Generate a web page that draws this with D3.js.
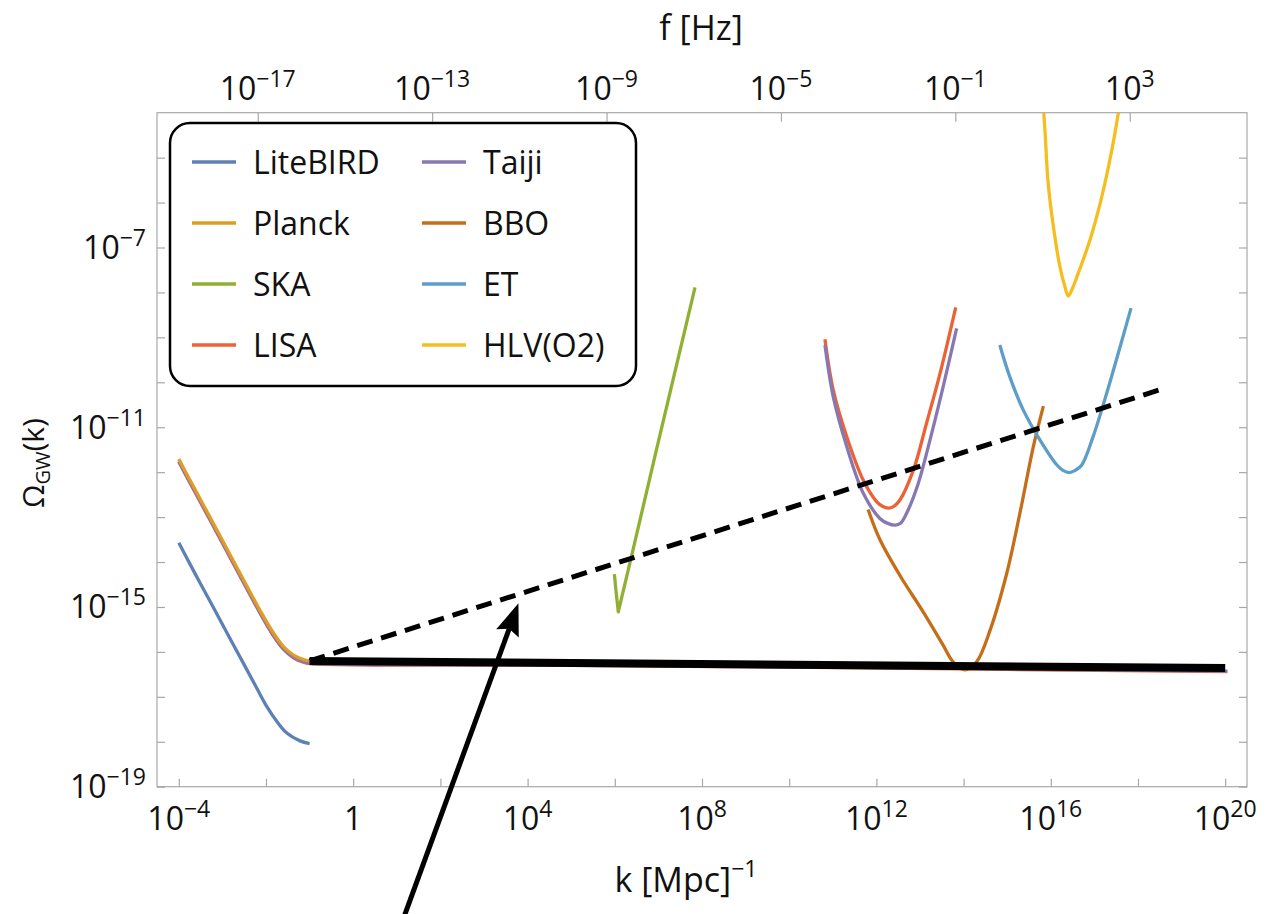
<!DOCTYPE html>
<html>
<head>
<meta charset="utf-8">
<script src="https://cdn.jsdelivr.net/npm/d3@7"></script>
<style>
  body { margin: 0; background: #fff; }
  svg { font-family: "Open Sans", sans-serif; }
</style>
</head>
<body>
<svg id="chart"></svg>
<script>
// Values, stored as log10 exponents
// (log10 k in Mpc^-1, log10 Omega_GW)
const liteBirdK = [-4.0, -3.67, -3.28, -2.90, -2.52, -2.21, -1.98, -1.75, -1.53, -1.22, -1.0];
const liteBirdO = [-13.57, -14.18, -14.88, -15.57, -16.25, -16.81, -17.22, -17.55, -17.80, -17.98, -18.04];

const planckK = [-4.0, -3.67, -3.28, -2.90, -2.52, -2.14, -1.83, -1.60, -1.37, -1.14, -1.0];
const planckO = [-11.71, -12.31, -13.01, -13.70, -14.39, -15.07, -15.58, -15.88, -16.07, -16.17, -16.20];

// low-k branch shared by the space detectors (sits just under Planck and under the solid line)
const lowBranchK = [-4.0, -3.67, -3.28, -2.90, -2.52, -2.14, -1.83, -1.60, -1.37, -1.14, -1.0, 5, 10, 15, 20.05];
const lowBranchO = [-11.76, -12.36, -13.06, -13.75, -14.44, -15.12, -15.63, -15.93, -16.12, -16.22, -16.25, -16.29, -16.33, -16.38, -16.43];

const skaK = [5.99, 6.03, 6.08, 6.42, 6.96, 7.42, 7.84];
const skaO = [-14.27, -14.67, -15.11, -13.72, -11.48, -9.60, -7.89];

const lisaK = [10.82, 11.01, 11.32, 11.70, 12.01, 12.14, 12.27, 12.40, 12.54, 12.85, 13.15, 13.46, 13.82];
const lisaO = [-9.04, -10.17, -11.21, -12.18, -12.66, -12.76, -12.80, -12.76, -12.62, -11.95, -10.91, -9.80, -8.33];

const taijiK = [10.82, 11.01, 11.32, 11.70, 12.08, 12.26, 12.43, 12.56, 12.69, 12.96, 13.23, 13.53, 13.84];
const taijiO = [-9.17, -10.32, -11.43, -12.47, -13.03, -13.14, -13.18, -13.13, -12.92, -12.25, -11.28, -10.10, -8.80];

const bboK = [11.81, 12.08, 12.54, 13.08, 13.53, 13.76, 14.03, 14.30, 14.61, 14.99, 15.29, 15.60, 15.83];
const bboO = [-12.83, -13.50, -14.30, -15.12, -15.85, -16.22, -16.40, -16.22, -15.51, -14.25, -12.92, -11.43, -10.53];

const etK = [14.83, 15.06, 15.37, 15.75, 16.14, 16.28, 16.42, 16.56, 16.71, 16.97, 17.28, 17.59, 17.84];
const etO = [-9.17, -9.88, -10.62, -11.28, -11.84, -11.96, -12.01, -11.96, -11.84, -11.21, -10.25, -9.21, -8.35];

const hlvK = [15.84, 15.87, 15.94, 16.06, 16.21, 16.32, 16.40, 16.50, 16.63, 16.90, 17.17, 17.40, 17.55];
const hlvO = [-4.0, -4.46, -5.57, -6.54, -7.43, -7.86, -8.08, -7.90, -7.57, -6.83, -5.87, -4.83, -4.0];

// black model lines
const solidK = [-1.0, 20.0];
const solidO = [-16.20, -16.36];
const dashedK = [-1.0, 18.62];
const dashedO = [-16.20, -10.13];

// annotation arrow (tail, tip) in data exponents
const arrowK = [1.07, 3.79];
const arrowO = [-22.15, -14.92];

// tick labels (exponents)
const kTickExps = [-4, 0, 4, 8, 12, 16, 20];
const fTickExps = [-17, -13, -9, -5, -1, 3];
const omegaTickExps = [-19, -15, -11, -7];

const legendNames = ['LiteBIRD', 'Planck', 'SKA', 'LISA', 'Taiji', 'BBO', 'ET', 'HLV(O2)'];
const legendColors = ['#5E81B5', '#E19C24', '#8FB032', '#EB6235', '#8778B3', '#C56E1A', '#5D9EC7', '#F5BE1E'];

// SVG dimensions
const svgWidth = 1266;
const svgHeight = 914;
const margin = { top: 112.7, right: 19, bottom: 127.3, left: 157 };
const width = svgWidth - margin.left - margin.right;
const height = svgHeight - margin.top - margin.bottom;

const svg = d3.select('#chart')
    .attr('width', svgWidth)
    .attr('height', svgHeight);

// scales
const xScale = d3.scaleLog()
    .domain([10 ** -4.5, 10 ** 20.5])
    .range([margin.left, margin.left + width]);

const yScale = d3.scaleLog()
    .domain([1e-19, 1e-4])
    .range([margin.top + height, margin.top]);

// f = c k / (2 pi), k in Mpc^-1
const hzPerK = 1.547e-15;
const fScale = d3.scaleLog()
    .domain(xScale.domain().map(k => k * hzPerK))
    .range(xScale.range());

const pts = (ks, os) => ks.map((k, i) => [10 ** k, 10 ** os[i]]);

// clip
svg.append('clipPath').attr('id', 'plotClip')
    .append('rect')
    .attr('x', margin.left).attr('y', margin.top)
    .attr('width', width).attr('height', height);

// frame
svg.append('rect')
    .attr('x', margin.left).attr('y', margin.top)
    .attr('width', width).attr('height', height)
    .attr('fill', 'none')
    .attr('stroke', '#a8a8a8')
    .attr('stroke-width', 1.2);

// axes (ticks point inward)
const styleAxis = g => {
    g.select('.domain').remove();
    g.selectAll('.tick line').attr('stroke', '#a8a8a8').attr('stroke-width', 1.2);
    g.selectAll('.tick text').remove();
};

const kTicks = d3.range(-4, 21, 2).map(e => 10 ** e);
const oTicks = d3.range(-19, -4, 1).map(e => 10 ** e);
const fTicks = fTickExps.map(e => 10 ** e);

svg.append('g')
    .attr('transform', `translate(0, ${margin.top + height})`)
    .call(d3.axisBottom(xScale).tickValues(kTicks).tickSizeInner(-8).tickSizeOuter(0))
    .call(styleAxis);

svg.append('g')
    .attr('transform', `translate(${margin.left}, 0)`)
    .call(d3.axisLeft(yScale).tickValues(oTicks).tickSizeInner(-8).tickSizeOuter(0))
    .call(styleAxis);

svg.append('g')
    .attr('transform', `translate(${margin.left + width}, 0)`)
    .call(d3.axisRight(yScale).tickValues(oTicks).tickSizeInner(-8).tickSizeOuter(0))
    .call(styleAxis);

svg.append('g')
    .attr('transform', `translate(0, ${margin.top})`)
    .call(d3.axisTop(fScale).tickValues(fTicks).tickSizeInner(-9).tickSizeOuter(0))
    .call(styleAxis);

// power-of-ten labels
function powLabel(sel, e) {
    if (e === 0) {
        sel.append('tspan').text('1');
        return;
    }
    sel.append('tspan').text('10');
    sel.append('tspan')
        .attr('font-size', 23)
        .attr('dy', -13)
        .text(String(e).replace('-', '\u2212'));
}

svg.selectAll('.k-label')
    .data(kTickExps)
    .enter()
    .append('text')
    .attr('class', 'k-label')
    .attr('x', d => xScale(10 ** d))
    .attr('y', margin.top + height + 43)
    .attr('text-anchor', 'middle')
    .attr('font-size', 32)
    .attr('fill', '#111')
    .each(function (d) { powLabel(d3.select(this), d); });

svg.selectAll('.f-label')
    .data(fTickExps)
    .enter()
    .append('text')
    .attr('class', 'f-label')
    .attr('x', d => fScale(10 ** d))
    .attr('y', 100)
    .attr('text-anchor', 'middle')
    .attr('font-size', 32)
    .attr('fill', '#111')
    .each(function (d) { powLabel(d3.select(this), d); });

svg.selectAll('.o-label')
    .data(omegaTickExps)
    .enter()
    .append('text')
    .attr('class', 'o-label')
    .attr('x', margin.left - 11)
    .attr('y', d => yScale(10 ** d) + 11.5)
    .attr('text-anchor', 'end')
    .attr('font-size', 32)
    .attr('fill', '#111')
    .each(function (d) { powLabel(d3.select(this), d); });

// axis titles
svg.append('text')
    .attr('x', 701).attr('y', 40)
    .attr('text-anchor', 'middle')
    .attr('font-size', 34)
    .attr('fill', '#111')
    .text('f [Hz]');

const kTitle = svg.append('text')
    .attr('x', 686).attr('y', 892)
    .attr('text-anchor', 'middle')
    .attr('font-size', 34)
    .attr('fill', '#111');
kTitle.append('tspan').text('k [Mpc]');
kTitle.append('tspan').attr('font-size', 23).attr('dy', -15).text('\u22121');

const oTitle = svg.append('text')
    .attr('transform', 'translate(44, 463) rotate(-90)')
    .attr('text-anchor', 'middle')
    .attr('font-size', 30)
    .attr('fill', '#111');
oTitle.append('tspan').text('\u03A9');
oTitle.append('tspan').attr('font-size', 20).attr('dy', 6).text('GW');
oTitle.append('tspan').attr('dy', -6).text('(k)');

// curves
const smooth = d3.line()
    .x(d => xScale(d[0]))
    .y(d => yScale(d[1]))
    .curve(d3.curveCatmullRom.alpha(0.5));

const straight = d3.line()
    .x(d => xScale(d[0]))
    .y(d => yScale(d[1]));

const plot = svg.append('g').attr('clip-path', 'url(#plotClip)');

const curves = [
    { color: legendColors[3], data: pts(lowBranchK, lowBranchO.map(v => v - 0.01)) },
    { color: legendColors[4], data: pts(lowBranchK, lowBranchO) },
    { color: legendColors[1], data: pts(planckK, planckO) },
    { color: legendColors[0], data: pts(liteBirdK, liteBirdO) },
    { color: legendColors[2], data: pts(skaK, skaO), linear: true },
    { color: legendColors[3], data: pts(lisaK, lisaO) },
    { color: legendColors[4], data: pts(taijiK, taijiO) },
    { color: legendColors[5], data: pts(bboK, bboO) },
    { color: legendColors[6], data: pts(etK, etO) },
    { color: legendColors[7], data: pts(hlvK, hlvO) }
];

plot.selectAll('.curve')
    .data(curves)
    .enter()
    .append('path')
    .attr('class', 'curve')
    .attr('fill', 'none')
    .attr('stroke', d => d.color)
    .attr('stroke-width', 3.3)
    .attr('stroke-linejoin', 'round')
    .attr('d', d => d.linear ? straight(d.data) : smooth(d.data));

plot.append('path')
    .attr('fill', 'none')
    .attr('stroke', '#000')
    .attr('stroke-width', 8)
    .attr('d', straight(pts(solidK, solidO)));

plot.append('path')
    .attr('fill', 'none')
    .attr('stroke', '#000')
    .attr('stroke-width', 5)
    .attr('stroke-dasharray', '16,9')
    .attr('d', straight(pts(dashedK, dashedO)));

// legend
const legend = svg.append('g');
legend.append('rect')
    .attr('x', 170).attr('y', 123)
    .attr('width', 466).attr('height', 263)
    .attr('rx', 20).attr('ry', 20)
    .attr('fill', '#fff')
    .attr('stroke', '#000')
    .attr('stroke-width', 2.5);

const legendItems = legend.selectAll('.item')
    .data(legendNames)
    .enter()
    .append('g')
    .attr('class', 'item')
    .attr('transform', (d, i) => `translate(${i < 4 ? 192 : 422}, ${162 + (i % 4) * 61})`);

legendItems.append('line')
    .attr('x1', 0).attr('x2', 44)
    .attr('stroke', (d, i) => legendColors[i])
    .attr('stroke-width', 3.3);

legendItems.append('text')
    .attr('x', 61)
    .attr('y', 12)
    .attr('font-size', 32)
    .attr('fill', '#111')
    .text(d => d);

// arrow
const tail = [xScale(10 ** arrowK[0]), yScale(10 ** arrowO[0])];
const tip = [xScale(10 ** arrowK[1]), yScale(10 ** arrowO[1])];
const ang = Math.atan2(tip[1] - tail[1], tip[0] - tail[0]);
const headLen = 32, headHalf = 12;
const base = [tip[0] - headLen * Math.cos(ang), tip[1] - headLen * Math.sin(ang)];
const notch = [tip[0] - (headLen - 5) * Math.cos(ang), tip[1] - (headLen - 5) * Math.sin(ang)];
const perp = [-Math.sin(ang), Math.cos(ang)];

svg.append('line')
    .attr('x1', tail[0]).attr('y1', tail[1])
    .attr('x2', notch[0]).attr('y2', notch[1])
    .attr('stroke', '#000')
    .attr('stroke-width', 5);

svg.append('path')
    .attr('fill', '#000')
    .attr('d', `M${tip[0]},${tip[1]}
        L${base[0] + perp[0] * headHalf},${base[1] + perp[1] * headHalf}
        L${notch[0]},${notch[1]}
        L${base[0] - perp[0] * headHalf},${base[1] - perp[1] * headHalf}Z`);
</script>
</body>
</html>
